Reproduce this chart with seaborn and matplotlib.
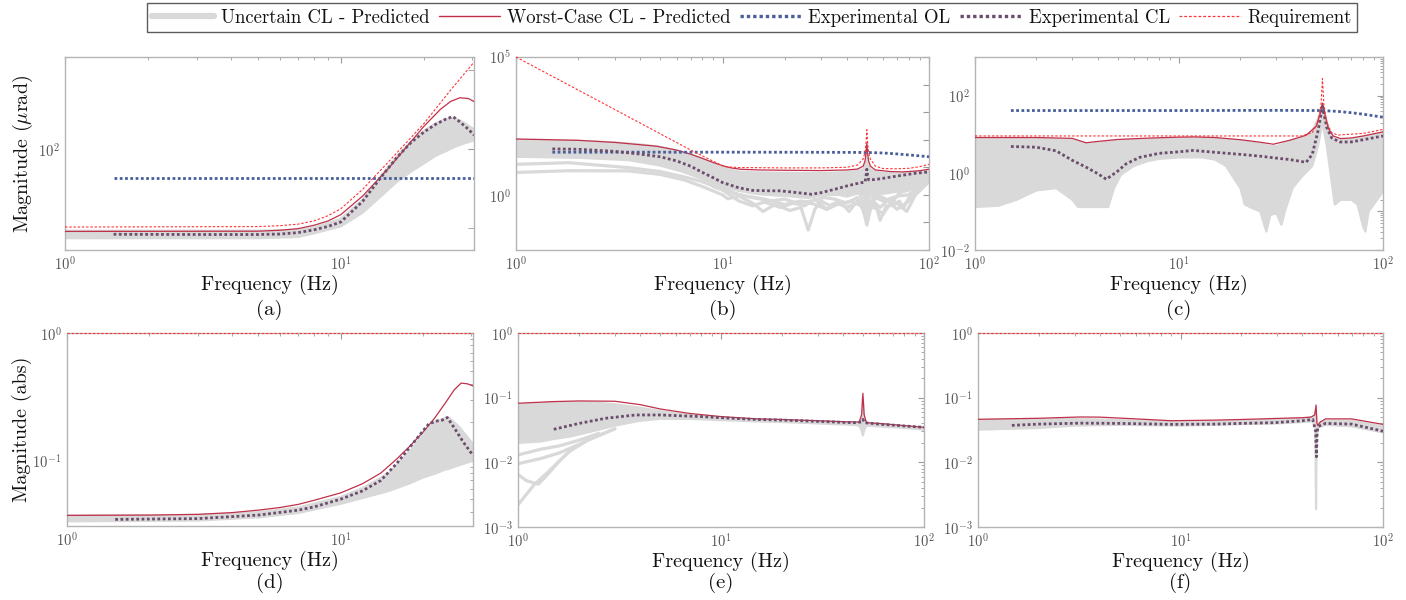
import numpy as np
import matplotlib
matplotlib.use("Agg")
import matplotlib.pyplot as plt
import seaborn as sns
from matplotlib.ticker import (LogLocator, NullFormatter, FixedLocator,
                               FuncFormatter, NullLocator)
from matplotlib.lines import Line2D

sns.set_theme(style="white")
plt.rcParams["font.family"] = ["cmr10", "DejaVu Serif"]
plt.rcParams["mathtext.fontset"] = "cm"
plt.rcParams["axes.formatter.use_mathtext"] = True
plt.rcParams["axes.unicode_minus"] = False

# ---------------- data ----------------
legend_labels = ["Uncertain CL - Predicted", "Worst-Case CL - Predicted",
                 "Experimental OL", "Experimental CL", "Requirement"]
panel_tags = ["(a)", "(b)", "(c)", "(d)", "(e)", "(f)"]

# (a) pointing error, micro-rad
a_req_f = [1, 5, 6, 7, 8, 9, 10, 12, 15, 20, 25, 30.4]
a_req = [50.2, 50.4, 50.8, 51.5, 53, 55.5, 59, 70, 90, 125, 168, 215]
a_wc_f = [1, 5, 6, 7, 8, 9, 10, 12, 15, 20, 23, 25, 27, 29, 30.4]
a_wc = [48.3, 48.4, 48.8, 49.5, 51, 53, 56, 66, 85, 122, 142, 152, 157, 156, 152]
a_ol_f = [1.5, 30.4]
a_ol = [77.4, 77.4]
a_cl_f = [1.5, 3, 5, 6, 7, 8, 9, 10, 12, 14, 16, 18, 20, 22, 24, 25.5, 27, 29, 30.4]
a_cl = [47.1, 47.0, 47.0, 47.2, 47.8, 49, 50.5, 52.5, 63, 78, 93, 106, 116, 124, 130, 133, 127, 119, 113]
a_gray_f = [1, 5, 7, 8, 10, 12, 14, 16, 18, 20, 22, 24, 26, 28, 30.4]
a_gray_hi = [48.6, 48.6, 48.9, 50, 54, 64, 79, 94, 107, 117, 125, 130, 131, 126, 119]
a_gray_lo = [45.5, 45.5, 46, 47.5, 50.5, 57, 66, 75, 82, 88, 94, 98, 102, 105, 108]

# (b)
b_req_f = [1, 2.85, 7.2, 10.2, 12, 20, 30, 40, 45, 48, 49, 49.5, 50, 50.5, 51, 52, 55, 60, 70, 80, 90, 100]
b_req = [1e5, 1550, 38, 10.5, 9.8, 9.5, 9.5, 10, 12, 20, 35, 70, 230, 70, 35, 20, 11, 9, 8.8, 9.2, 10.5, 12.8]
b_wc_f = [1, 2, 3, 4.8, 6, 7, 8, 9, 10, 11, 12.2, 15, 20, 30, 40, 45, 48, 49, 49.5, 50, 50.5, 51, 52, 55, 65, 75, 90, 100]
b_wc = [106, 95, 80, 58, 42, 30, 21, 15, 11.5, 9.5, 8.5, 8.0, 7.8, 7.6, 8.0, 8.6, 11, 17, 30, 76, 30, 17, 11, 8, 7, 6.8, 7.5, 8.5]
b_ol_f = [1.5, 10, 30, 50, 60, 70, 80, 90, 100]
b_ol = [35.3, 35.3, 35, 34.5, 33, 30.5, 28, 26, 24]
b_cl_f = [1.5, 2, 3, 4, 5, 6, 7, 8, 9, 10, 12, 14, 17, 19, 22, 27, 30, 35, 40, 46, 49, 49.6, 50, 50.4, 51, 55, 70, 85, 100]
b_cl = [46.5, 45, 38, 30, 24, 17, 11, 6.5, 4.2, 2.8, 1.8, 1.45, 1.4, 1.4, 1.25, 1.05, 1.2, 1.6, 2.1, 2.7, 2.9, 5, 8.5, 5, 3.5, 3.6, 4.8, 6, 6.8]
b_gray_f = [1, 1.5, 2, 3, 4, 5, 6, 7, 8, 9, 10, 11, 12, 14, 17, 20, 25, 30, 35, 40, 45, 48, 49, 50, 51, 52, 55, 60, 70, 80, 90, 100]
b_gray_hi = [100, 97, 92, 80, 68, 55, 41, 29, 20, 13.5, 10, 8.0, 7.0, 6.6, 6.4, 6.3, 6.2, 6.2, 6.4, 6.8, 7.4, 8.5, 12, 30, 12, 8.5, 7, 6.2, 6.0, 6.2, 7.0, 7.8]
b_gray_lo = [29, 29, 28, 24, 19, 13, 8.5, 5.5, 3.8, 2.8, 2.1, 1.7, 1.4, 1.15, 1.0, 0.95, 0.9, 0.95, 1.0, 1.05, 1.1, 1.0, 0.6, 0.3, 0.6, 1.0, 1.1, 1.1, 1.3, 1.7, 2.4, 3.4]
b_d1_f = [1, 1.8, 3.5, 5, 6.5, 8, 10, 10.6, 12, 14, 15.7, 18, 21.2, 24, 26, 28, 30, 33, 37, 41, 45, 48, 50, 52, 55, 58, 62, 67, 72, 75, 80, 90, 100]
b_d1 = [6.5, 7.5, 7.4, 5.5, 3.5, 2.0, 1.0, 0.72, 0.9, 0.5, 0.25, 0.45, 0.27, 0.35, 0.053, 0.3, 0.6, 0.41, 0.6, 0.25, 0.6, 0.3, 0.08, 0.3, 0.5, 0.12, 0.4, 0.41, 0.6, 0.32, 0.8, 2.0, 3.5]
b_d2_f = [1, 2, 3.5, 5, 6.5, 8, 10, 12, 14, 17, 20, 23, 27, 31, 35, 40, 45, 50, 55, 60, 70, 80, 90, 100]
b_d2 = [25, 23, 19, 12, 7, 4, 1.8, 1.0, 0.8, 0.6, 0.7, 0.5, 0.6, 0.8, 0.7, 0.5, 0.8, 0.15, 0.8, 0.6, 0.9, 1.0, 2.5, 4.0]
b_d3_f = [1, 1.8, 3.5, 5, 6.5, 8, 10, 12, 15, 18, 22, 26, 30, 35, 40, 46, 50, 54, 60, 66, 72, 80, 90, 100]
b_d3 = [12.8, 14.7, 9.7, 7, 4.5, 3, 2.2, 1.5, 1.1, 1.0, 0.9, 0.8, 1.0, 1.1, 0.9, 1.2, 0.2, 1.0, 0.8, 0.5, 1.2, 1.5, 2.8, 4.5]
b_d4_f = [8, 10, 12, 14, 16, 19, 22, 25, 28, 32, 36, 40, 44, 48, 50, 52, 56, 60, 65, 70, 76, 82, 90, 100]
b_d4 = [3, 1.5, 0.6, 0.4, 0.55, 0.35, 0.5, 0.4, 0.7, 0.3, 0.5, 0.35, 0.5, 0.4, 0.1, 0.4, 0.3, 0.2, 0.5, 0.3, 0.45, 0.7, 1.8, 3.2]
b_d5_f = [9, 11, 13, 16, 20, 24, 28, 32, 36, 42, 47, 50, 53, 58, 64, 70, 78, 86, 100]
b_d5 = [2.0, 1.2, 0.9, 0.7, 0.45, 0.6, 0.45, 0.3, 0.45, 0.6, 0.4, 0.12, 0.6, 0.35, 0.7, 0.5, 0.25, 1.0, 3.0]

# (c)
c_req_f = [1, 40, 45, 48, 49.7, 50.5, 51.3, 53, 56, 60, 80, 100]
c_req = [9, 9, 11, 20, 60, 275, 60, 20, 11, 9.5, 10.5, 13.3]
c_wc_f = [1, 2, 3, 3.5, 4, 5, 7, 10, 12, 15, 20, 25, 29, 35, 42, 47, 49.3, 50.5, 51.7, 54, 57, 62, 70, 80, 100]
c_wc = [8.2, 8.2, 7.8, 6.0, 6.5, 7.3, 7.9, 8.4, 8.5, 8.2, 7.2, 6.2, 5.5, 7, 9.4, 16, 35, 64, 35, 14, 9, 7.7, 8, 9, 11.5]
c_ol_f = [1.5, 10, 30, 50, 60, 70, 80, 90, 100]
c_ol = [41, 41, 41.5, 41, 39, 36, 33, 30, 27.5]
c_cl_f = [1.5, 2, 2.5, 3, 3.5, 4, 4.4, 5, 5.5, 6.4, 8, 10, 11.7, 15, 20, 25, 29, 35, 42, 45, 48, 50.5, 53, 56, 61.5, 70, 80, 100]
c_cl = [4.8, 4.6, 3.7, 2.1, 1.4, 0.95, 0.68, 1.1, 1.7, 2.5, 3.2, 3.5, 3.8, 3.4, 3.0, 2.7, 2.45, 2.2, 1.87, 3, 12, 52, 15, 8, 6.3, 6.3, 7.2, 9.0]
c_gray_f = [1, 1.3, 1.6, 2, 2.5, 3, 3.2, 3.5, 4, 4.5, 4.8, 5.2, 6, 7, 8, 10, 12, 13, 15, 17, 19, 20, 21, 23, 25, 26.8, 28, 30, 31.8, 33, 36, 40, 45, 48, 50.5, 53, 55, 58, 62, 70, 75, 80, 82, 85, 90, 100]
c_gray_hi = [7.5, 7.5, 7.5, 7.5, 7.4, 7.2, 6.5, 5.5, 6.0, 6.4, 6.7, 6.9, 7.2, 7.4, 7.6, 7.8, 8.0, 8.0, 7.7, 7.3, 7.0, 6.8, 6.6, 6.1, 5.7, 5.2, 4.9, 4.9, 5.4, 6.0, 6.8, 8.0, 12, 25, 55, 22, 10, 7.5, 7.0, 7.5, 8.0, 8.5, 8.7, 9.0, 9.8, 11]
c_gray_lo = [0.13, 0.14, 0.2, 0.35, 0.4, 0.2, 0.13, 0.13, 0.13, 0.13, 0.4, 0.9, 1.5, 2.0, 2.3, 2.5, 2.5, 2.5, 2.2, 1.5, 0.6, 0.4, 0.15, 0.12, 0.1, 0.03, 0.08, 0.09, 0.045, 0.1, 0.4, 0.8, 1.5, 5, 20, 5, 1.2, 0.15, 0.2, 0.2, 0.15, 0.04, 0.03, 0.1, 0.15, 0.33]

# (d)
d_req_f = [1, 30.4]
d_req = [1.0, 1.0]
d_wc_f = [1, 2, 3, 4, 5, 6, 7, 8, 10, 12, 14, 16, 18, 20, 22, 24, 26, 27.5, 29, 30.4]
d_wc = [0.0373, 0.0375, 0.038, 0.0392, 0.041, 0.043, 0.0455, 0.049, 0.056, 0.066, 0.080, 0.103, 0.132, 0.168, 0.215, 0.28, 0.36, 0.405, 0.40, 0.385]
d_cl_f = [1.5, 3, 5, 7, 8, 10, 12, 14, 16, 18, 20, 21, 22.5, 23.5, 24.5, 26, 28, 30.4]
d_cl = [0.0347, 0.0352, 0.0375, 0.041, 0.0435, 0.050, 0.058, 0.07, 0.095, 0.13, 0.172, 0.195, 0.205, 0.208, 0.218, 0.18, 0.14, 0.11]
d_gray_f = [1, 3, 5, 7, 10, 12, 15, 18, 20, 22, 24, 25, 27, 30.4]
d_gray_hi = [0.0372, 0.0376, 0.0395, 0.043, 0.052, 0.061, 0.08, 0.12, 0.16, 0.20, 0.215, 0.215, 0.185, 0.135]
d_gray_lo = [0.0335, 0.034, 0.036, 0.039, 0.046, 0.051, 0.058, 0.067, 0.074, 0.079, 0.085, 0.087, 0.092, 0.100]

# (e)
e_req_f = [1, 100]
e_req = [1.0, 1.0]
e_wc_f = [1, 1.5, 2, 3, 4, 5, 7, 10, 15, 20, 30, 40, 48, 49.3, 50, 50.7, 52, 60, 80, 100]
e_wc = [0.082, 0.087, 0.089, 0.088, 0.078, 0.067, 0.057, 0.051, 0.047, 0.046, 0.044, 0.0425, 0.042, 0.055, 0.117, 0.055, 0.041, 0.04, 0.037, 0.0348]
e_cl_f = [1.5, 2, 2.7, 3.8, 5, 8, 10, 15, 20, 30, 45, 49, 50, 51, 60, 80, 100]
e_cl = [0.0324, 0.04, 0.048, 0.054, 0.054, 0.051, 0.049, 0.046, 0.045, 0.043, 0.041, 0.042, 0.046, 0.041, 0.039, 0.0365, 0.0348]
e_gray_f = [1, 1.3, 1.5, 1.8, 2, 2.5, 3, 4, 5, 7, 10, 15, 20, 30, 45, 48, 49.5, 50, 50.5, 52, 60, 80, 100]
e_gray_hi = [0.078, 0.082, 0.084, 0.085, 0.085, 0.083, 0.079, 0.07, 0.062, 0.054, 0.049, 0.046, 0.045, 0.043, 0.041, 0.041, 0.05, 0.1, 0.05, 0.04, 0.039, 0.036, 0.034]
e_gray_lo = [0.02, 0.021, 0.023, 0.025, 0.027, 0.032, 0.037, 0.044, 0.047, 0.047, 0.045, 0.043, 0.042, 0.040, 0.038, 0.037, 0.03, 0.026, 0.03, 0.037, 0.036, 0.034, 0.032]
e_c1_f = [1, 1.1, 1.26, 1.4, 1.6, 1.8, 2.2, 3]
e_c1 = [0.0065, 0.0052, 0.0046, 0.0065, 0.0105, 0.015, 0.022, 0.033]
e_c2_f = [1, 1.1, 1.2, 1.4, 1.6, 1.8, 2.2, 3]
e_c2 = [0.0022, 0.0032, 0.0045, 0.007, 0.0105, 0.015, 0.022, 0.033]
e_c3_f = [1, 1.3, 1.6, 2, 2.5]
e_c3 = [0.0095, 0.0115, 0.014, 0.019, 0.027]
e_c4_f = [1, 1.3, 1.6, 2, 2.5]
e_c4 = [0.013, 0.016, 0.018, 0.022, 0.028]

# (f)
f_req_f = [1, 100]
f_req = [1.0, 1.0]
f_wc_f = [1, 2, 3.2, 4, 6, 9, 15, 20, 29, 40, 44, 46, 46.7, 47.2, 47.7, 49, 52, 70, 100]
f_wc = [0.0463, 0.048, 0.0503, 0.05, 0.047, 0.044, 0.045, 0.046, 0.0476, 0.049, 0.050, 0.054, 0.077, 0.04, 0.037, 0.042, 0.047, 0.047, 0.0386]
f_cl_f = [1.47, 2, 3.2, 5, 9.2, 15, 20, 29, 40, 45, 46.5, 46.9, 47.3, 48, 52, 70, 100]
f_cl = [0.0373, 0.039, 0.0404, 0.040, 0.0386, 0.039, 0.040, 0.041, 0.044, 0.046, 0.03, 0.0122, 0.03, 0.036, 0.040, 0.039, 0.0303]
f_gray_f = [1, 2, 3, 5, 10, 20, 30, 40, 45, 46.3, 46.5, 46.7, 46.9, 47.1, 47.5, 48, 52, 70, 100]
f_gray_hi = [0.045, 0.046, 0.047, 0.045, 0.042, 0.044, 0.046, 0.048, 0.05, 0.055, 0.06, 0.055, 0.045, 0.035, 0.037, 0.04, 0.044, 0.044, 0.036]
f_gray_lo = [0.032, 0.034, 0.037, 0.038, 0.037, 0.039, 0.040, 0.042, 0.043, 0.035, 0.01, 0.0019, 0.01, 0.025, 0.032, 0.035, 0.038, 0.036, 0.029]

# ---------------- style ----------------
GRAY = "#d9d9d9"
WORST = "#c0304a"
OLC = "#4a5e9c"
CLC = "#6b4d6c"
REQC = "#ff3333"
SPINE = "#b4b4b4"
DOT = (0, (1.0, 0.9))
REQLS = (0, (2.2, 1.6))

W, H = 1406, 600
fig = plt.figure(figsize=(W / 100, H / 100), dpi=100)


def px_axes(l, r, t, b):
    return fig.add_axes([l / W, 1 - b / H, (r - l) / W, (b - t) / H])


def line(ax, f, v, **kw):
    sns.lineplot(x=np.asarray(f, float), y=np.asarray(v, float), ax=ax,
                 estimator=None, sort=False, legend=False, **kw)


def gray_band(ax, f, lo, hi):
    f = np.asarray(f, float)
    ax.fill_between(f, lo, hi, color=GRAY, lw=0, zorder=1)
    line(ax, f, hi, color=GRAY, linewidth=1.6, zorder=1.1)
    line(ax, f, lo, color=GRAY, linewidth=1.6, zorder=1.1)


def gray_line(ax, f, v):
    line(ax, f, v, color=GRAY, linewidth=2.3, zorder=1.2)


def style_axes(ax, xlim, ylim):
    ax.set_xscale("log")
    ax.set_yscale("log")
    ax.set_xlim(*xlim)
    ax.set_ylim(*ylim)
    for s in ax.spines.values():
        s.set_color(SPINE)
        s.set_linewidth(1.0)
        s.set_visible(True)
    ax.tick_params(which="both", direction="in", top=True, right=True,
                   color="#9a9a9a", labelcolor="#555555", labelsize=10.5)
    ax.tick_params(which="major", length=4, width=0.8, pad=4)
    ax.tick_params(which="minor", length=2.2, width=0.6)
    ax.xaxis.set_major_locator(LogLocator(base=10, numticks=10))
    ax.xaxis.set_minor_locator(LogLocator(base=10, subs=np.arange(2, 10), numticks=10))
    ax.xaxis.set_minor_formatter(NullFormatter())
    ax.set_xlabel("Frequency (Hz)", fontsize=14.5, color="#111111", labelpad=1)
    ax.grid(False)
    ax.set_facecolor("white")


def exp_fmt(keep):
    def fmt(v, pos):
        e = int(round(np.log10(v)))
        return r"$10^{%d}$" % e if e in keep else ""
    return FuncFormatter(fmt)


def draw_main(ax, wc, ol, cl, req):
    line(ax, wc[0], wc[1], color=WORST, linewidth=0.9, zorder=3)
    if ol is not None:
        line(ax, ol[0], ol[1], color=OLC, linewidth=2.0, linestyle=DOT, zorder=4)
    line(ax, cl[0], cl[1], color=CLC, linewidth=2.0, linestyle=DOT, zorder=5)
    if req is not None:
        line(ax, req[0], req[1], color=REQC, linewidth=0.8, linestyle=REQLS,
             zorder=6, clip_on=False)


# ---- (a)
ax = px_axes(65, 474, 57, 250)
style_axes(ax, (1, 30.4), (41, 225))
gray_band(ax, a_gray_f, a_gray_lo, a_gray_hi)
draw_main(ax, (a_wc_f, a_wc), (a_ol_f, a_ol), (a_cl_f, a_cl), (a_req_f, a_req))
ax.yaxis.set_major_locator(FixedLocator([100]))
ax.yaxis.set_minor_locator(FixedLocator([50, 200]))
ax.yaxis.set_major_formatter(exp_fmt({2}))
ax.yaxis.set_minor_formatter(NullFormatter())
ax.tick_params(axis="y", which="minor", length=4)
ax.set_ylabel(r"Magnitude ($\mu$rad)", fontsize=14.5, color="#111111", labelpad=2)
axes_list = [ax]

# ---- (b)
ax = px_axes(516, 929, 57, 250)
style_axes(ax, (1, 100), (1e-2, 1e5))
gray_band(ax, b_gray_f, b_gray_lo, b_gray_hi)
for gf, gv in [(b_d1_f, b_d1), (b_d2_f, b_d2), (b_d3_f, b_d3),
               (b_d4_f, b_d4), (b_d5_f, b_d5)]:
    gray_line(ax, gf, gv)
draw_main(ax, (b_wc_f, b_wc), (b_ol_f, b_ol), (b_cl_f, b_cl), (b_req_f, b_req))
ax.yaxis.set_major_locator(LogLocator(base=10, numticks=20))
ax.yaxis.set_minor_locator(NullLocator())
ax.yaxis.set_major_formatter(exp_fmt({0, 5}))
axes_list.append(ax)

# ---- (c)
ax = px_axes(975, 1383, 57, 250)
style_axes(ax, (1, 100), (1e-2, 1e3))
gray_band(ax, c_gray_f, c_gray_lo, c_gray_hi)
draw_main(ax, (c_wc_f, c_wc), (c_ol_f, c_ol), (c_cl_f, c_cl), (c_req_f, c_req))
ax.yaxis.set_major_locator(LogLocator(base=10, numticks=20))
ax.yaxis.set_minor_locator(LogLocator(base=10, subs=np.arange(2, 10), numticks=20))
ax.yaxis.set_major_formatter(exp_fmt({-2, 0, 2}))
ax.yaxis.set_minor_formatter(NullFormatter())
axes_list.append(ax)

# ---- (d)
ax = px_axes(67, 473, 333, 526)
style_axes(ax, (1, 30.4), (0.0308, 1))
gray_band(ax, d_gray_f, d_gray_lo, d_gray_hi)
draw_main(ax, (d_wc_f, d_wc), None, (d_cl_f, d_cl), (d_req_f, d_req))
ax.yaxis.set_major_locator(FixedLocator([0.1, 1]))
ax.yaxis.set_minor_locator(LogLocator(base=10, subs=np.arange(2, 10), numticks=20))
ax.yaxis.set_major_formatter(exp_fmt({-1, 0}))
ax.yaxis.set_minor_formatter(NullFormatter())
ax.set_ylabel("Magnitude (abs)", fontsize=14.5, color="#111111", labelpad=0)
axes_list.append(ax)

# ---- (e)
ax = px_axes(518, 924, 333, 527)
style_axes(ax, (1, 100), (1e-3, 1))
gray_band(ax, e_gray_f, e_gray_lo, e_gray_hi)
for gf, gv in [(e_c1_f, e_c1), (e_c2_f, e_c2), (e_c3_f, e_c3), (e_c4_f, e_c4)]:
    gray_line(ax, gf, gv)
draw_main(ax, (e_wc_f, e_wc), None, (e_cl_f, e_cl), (e_req_f, e_req))
ax.yaxis.set_major_locator(LogLocator(base=10, numticks=20))
ax.yaxis.set_minor_locator(LogLocator(base=10, subs=np.arange(2, 10), numticks=20))
ax.yaxis.set_major_formatter(exp_fmt({-3, -2, -1, 0}))
ax.yaxis.set_minor_formatter(NullFormatter())
axes_list.append(ax)

# ---- (f)
ax = px_axes(978, 1383, 333, 527)
style_axes(ax, (1, 100), (1e-3, 1))
gray_band(ax, f_gray_f, f_gray_lo, f_gray_hi)
draw_main(ax, (f_wc_f, f_wc), None, (f_cl_f, f_cl), (f_req_f, f_req))
ax.yaxis.set_major_locator(LogLocator(base=10, numticks=20))
ax.yaxis.set_minor_locator(LogLocator(base=10, subs=np.arange(2, 10), numticks=20))
ax.yaxis.set_major_formatter(exp_fmt({-3, -2, -1, 0}))
ax.yaxis.set_minor_formatter(NullFormatter())
axes_list.append(ax)

# panel tags
for axx, tag in zip(axes_list, panel_tags):
    bb = axx.get_position()
    y = 0.483 if bb.y0 > 0.4 else 0.028
    fig.text((bb.x0 + bb.x1) / 2, y, tag, ha="center", va="center",
             fontsize=15, color="#111111")

# legend
handles = [
    Line2D([], [], color=GRAY, lw=4.5),
    Line2D([], [], color=WORST, lw=1.0),
    Line2D([], [], color=OLC, lw=2.4, linestyle=DOT),
    Line2D([], [], color=CLC, lw=2.4, linestyle=DOT),
    Line2D([], [], color=REQC, lw=0.9, linestyle=REQLS),
]
leg = fig.legend(handles, legend_labels, loc="upper center",
                 bbox_to_anchor=(752 / W, 1 - 3 / H), ncol=5, frameon=True,
                 fancybox=False, fontsize=13.5, handlelength=3.3,
                 handletextpad=0.35, columnspacing=0.5, borderpad=0.3,
                 borderaxespad=0)
leg.get_frame().set_edgecolor("#333333")
leg.get_frame().set_linewidth(1.0)
for t in leg.get_texts():
    t.set_color("#111111")

fig.savefig("out.png", dpi=100, facecolor="white")
